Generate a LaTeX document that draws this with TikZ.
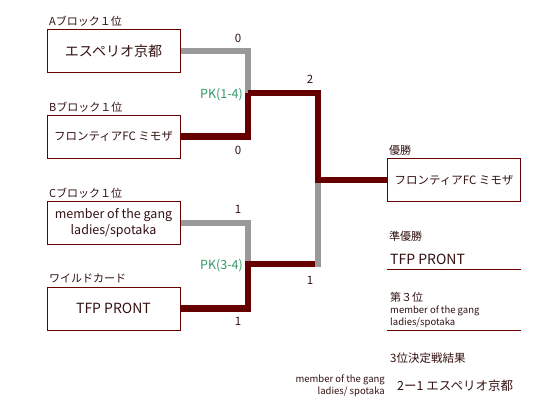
\documentclass[tikz,border=0pt]{standalone}
\usepackage{fontspec}
\setmainfont{Noto Sans CJK JP}
\definecolor{dred}{HTML}{660000}
\definecolor{lgray}{HTML}{999999}
\definecolor{pkgreen}{HTML}{339966}
\definecolor{txt}{HTML}{331111}
\begin{document}
\begin{tikzpicture}[x=1pt,y=-1pt,
  team/.style={draw=dred,line width=1pt,minimum width=133pt,minimum height=43pt,inner sep=1pt,align=center,text=txt,font=\fontsize{11.5}{14}\selectfont},
  big/.style={font=\fontsize{14}{16}\selectfont},
  latin/.style={font=\fontsize{12.5}{16}\selectfont},
  lbl/.style={anchor=west,inner sep=0pt,text=txt,font=\fontsize{11}{13}\selectfont},
  score/.style={inner sep=0pt,text=txt,font=\fontsize{11.5}{12}\selectfont},
  pk/.style={anchor=east,inner sep=0pt,text=pkgreen,font=\fontsize{12.5}{12}\selectfont},
  small/.style={inner sep=0pt,text=txt,font=\fontsize{9.5}{12}\selectfont},
  loser/.style={lgray,line width=6pt},
  winner/.style={dred,line width=6.5pt},
  uline/.style={dred,line width=1pt}]
\useasboundingbox (0,0) rectangle (556,410);
% boxes
\node[team,big] (A) at (113.5,51) {エスペリオ京都};
\node[team] (B) at (113.5,136.5) {フロンティアFC ミモザ};
\node[team,latin] (C) at (113.5,222.5) {member of the gang\\ladies/spotaka};
\node[team,big] (W) at (113.5,308.5) {TFP PRONT};
\node[team] (F) at (454,180) {フロンティアFC ミモザ};
% labels
\node[lbl] (lA) at (49,21) {Aブロック１位};
\node[lbl] (lB) at (49,107) {Bブロック１位};
\node[lbl] (lC) at (49,193) {Cブロック１位};
\node[lbl] (lW) at (49,278) {ワイルドカード};
\node[lbl] (lF) at (389,150) {優勝};
% junctions
\coordinate (j1) at (248,93);
\coordinate (j2) at (248,264);
\coordinate (j2b) at (318,264);
\coordinate (j3) at (318,180);
% connectors
\draw[loser] (A.east) -| (j1);
\draw[loser] (C.east) -| (j2);
\draw[winner] (B.east) -| (j1);
\draw[winner] (W.east) -| (j2) -- (j2b);
\draw[loser,line cap=rect] (j2b) -- (j3);
\draw[winner] (j1) -| (j3) -- (F.west);
% scores
\node[score] (sA) at (238,38) {0};
\node[pk] (pk1) at (243,95) {PK(1-4)};
\node[score] (sB) at (238,150) {0};
\node[score] (sC) at (238,209) {1};
\node[pk] (pk2) at (243,266) {PK(3-4)};
\node[score] (sW) at (238,321) {1};
\node[score] (s1) at (310,79) {2};
\node[score] (s2) at (310,280) {1};
% results
\node[lbl] (l2) at (389,236) {準優勝};
\node[lbl,big] (r2) at (390,259) {TFP PRONT};
\coordinate (u1a) at (387,269);
\coordinate (u1b) at (521,269);
\draw[uline] (u1a) -- (u1b);
\node[lbl] (l3) at (390,297) {第３位};
\node[small,anchor=west] (r3a) at (390,311) {member of the gang};
\node[small,anchor=west] (r3b) at (390,323) {ladies/spotaka};
\coordinate (u2a) at (387,330);
\coordinate (u2b) at (521,330);
\draw[uline] (u2a) -- (u2b);
\node[lbl,font=\fontsize{11.5}{14}\selectfont] (l4) at (390,358) {3位決定戦結果};
\node[small,anchor=east] (r4a) at (385,380) {member of the gang};
\node[small,anchor=east] (r4b) at (385,392) {ladies/ spotaka};
\node[lbl,font=\fontsize{12.5}{14}\selectfont] (r4) at (397,386) {2ー1 エスペリオ京都};
\end{tikzpicture}
\end{document}
